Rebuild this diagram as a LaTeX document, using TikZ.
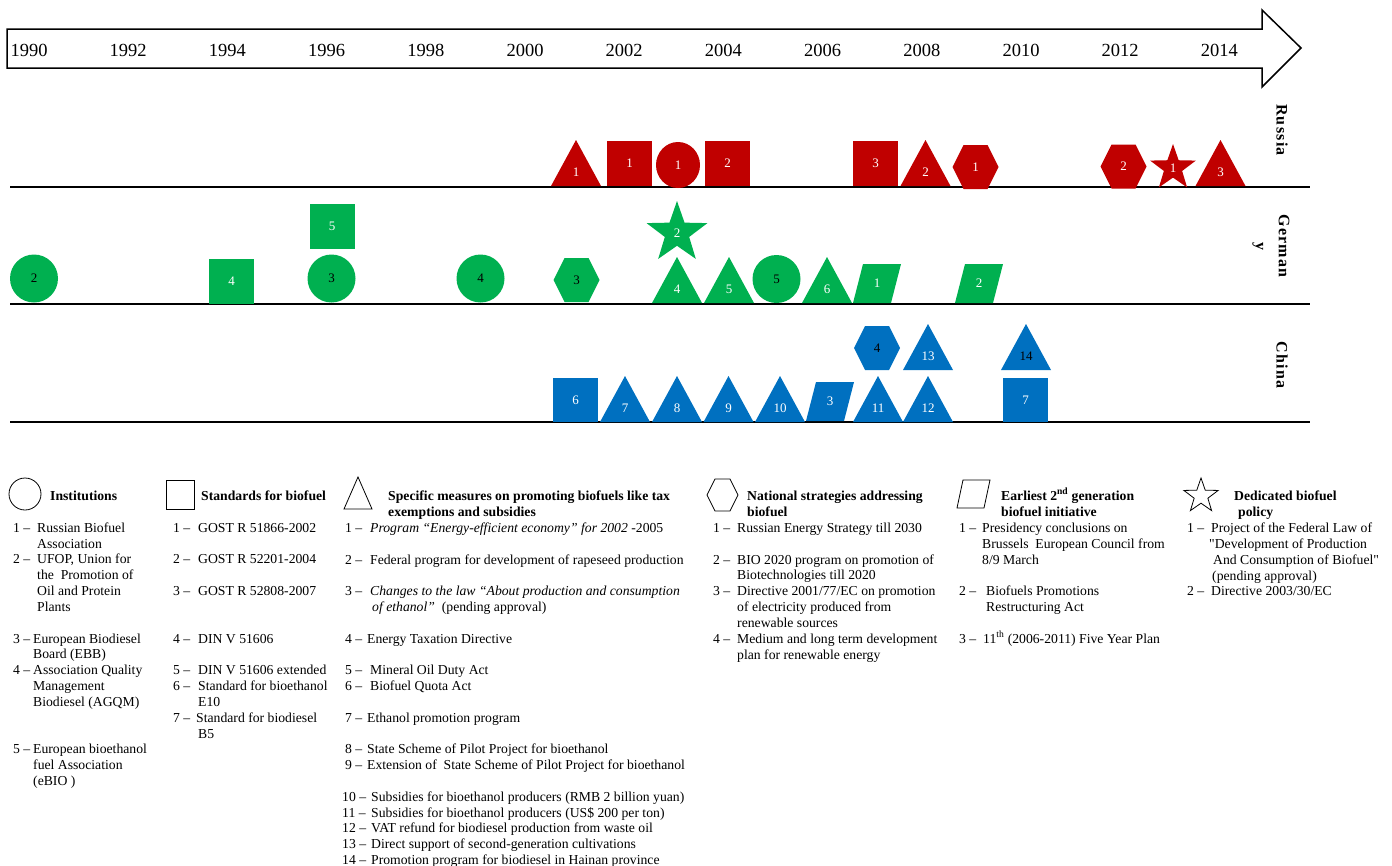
\documentclass[tikz,border=0pt]{standalone}
\usepackage{fontspec}
\setmainfont{Liberation Serif}
\newfontfamily\rawq{Liberation Serif}[Ligatures=ResetAll]
\usetikzlibrary{shapes.geometric}
\definecolor{ru}{HTML}{C00000}
\definecolor{de}{HTML}{00B050}
\definecolor{cn}{HTML}{0070C0}
\newcounter{legc}
\newcommand\Lg[3]{\stepcounter{legc}\node[leg] (leg\number\value{legc}) at (#1,#2) {#3};}
\newcommand\En[5]{\stepcounter{legc}\node[leg] (leg\number\value{legc}) at (#1,#2) {\makebox[#3pt][l]{#4}#5};}
\newcommand\Tri[6]{\fill[#1] ({#3-25},#4) -- (#3,{#4-46}) -- ({#3+25},#4) -- cycle;
  \node[lbl,text=#6] (#2) at (#3,{#4-14}) {#5};}
\newcommand\Hex[6]{\fill[#1] ({#3-23},#4) -- ({#3-12},{#4-22}) -- ({#3+12},{#4-22}) -- ({#3+23},#4) -- ({#3+12},{#4+22}) -- ({#3-12},{#4+22}) -- cycle;
  \node[lbl,text=#6] (#2) at (#3,#4) {#5};}
\newcommand\Par[5]{\fill[#1] (#3,#4) -- ({#3+38},#4) -- ({#3+48},{#4-39}) -- ({#3+10},{#4-39}) -- cycle;
  \node[lbl,text=white] (#2) at ({#3+24},{#4-19.5}) {#5};}
\begin{document}
\begin{tikzpicture}[x=1pt,y=-1pt,
  lbl/.style={font=\fontsize{13}{13}\selectfont, inner sep=0},
  year/.style={font=\fontsize{18.5}{18.5}\selectfont, inner sep=0},
  leg/.style={font=\fontsize{13.7}{16}\selectfont, anchor=base west, inner sep=0},
  country/.style={font=\fontsize{16}{23}\selectfont\bfseries\addfontfeature{LetterSpace=8}, rotate=-90, inner sep=0, align=center},
  icon/.style={draw=black, line width=0.8pt},
  sq/.style={rectangle, minimum width=45, minimum height=45, inner sep=0, font=\fontsize{13}{13}\selectfont},
  el/.style={ellipse, minimum width=48, minimum height=48, inner sep=0, font=\fontsize{13}{13}\selectfont},
  st/.style={star, star points=5, star point ratio=2.5, inner sep=0, font=\fontsize{13}{13}\selectfont},
  row/.style={line width=2pt}
]
\useasboundingbox (0,0) rectangle (1392,865);
% timeline arrow
\draw[line width=1.5pt, line join=miter] (7,29) -- (1262,29) -- (1262,10) -- (1301,48) -- (1262,87) -- (1262,68) -- (7,68) -- cycle;
\foreach \yr in {1990,1992,...,2014}
  \node[year] (y\yr) at ({29+(\yr-1990)*49.6},50) {\yr};
% row lines
\draw[row] (10,187) -- (1310,187);
\draw[row] (10,304) -- (1310,304);
\draw[row] (10,422) -- (1310,422);
% country labels
\node[country] (russia) at (1282,130) {Russia};
\node[country] (germany) at (1271,246) {German\\y};
\node[country] (china) at (1282,365) {China};
% Russia
\Tri{ru}{rT1}{576}{186}{1}{white}
\node[sq,fill=ru,text=white] (rS1) at (629.5,163.5) {1};
\node[el,fill=ru,text=white,minimum width=44,minimum height=46] (rC1) at (678,165) {1};
\node[sq,fill=ru,text=white] (rS2) at (727.5,163.5) {2};
\node[sq,fill=ru,text=white] (rS3) at (875.5,163.5) {3};
\Tri{ru}{rT2}{925.5}{186}{2}{white}
\Hex{ru}{rH1}{975.5}{167}{1}{white}
\Hex{ru}{rH2}{1123.5}{166.5}{2}{white}
\node[st,fill=ru,text=white,minimum size=48] (rP1) at (1173,168) {1};
\Tri{ru}{rT3}{1220.5}{186}{3}{white}
% Germany
\node[el,fill=de] (gC2) at (34,278.5) {2};
\node[sq,fill=de,text=white] (gS4) at (231.5,281) {4};
\node[sq,fill=de,text=white] (gS5) at (332,226.5) {5};
\node[el,fill=de] (gC3) at (331.5,278.5) {3};
\node[el,fill=de] (gC4) at (480.5,278.5) {4};
\Hex{de}{gH3}{576.5}{280}{3}{black}
\node[st,fill=de,text=white,minimum size=64] (gP2) at (677,233) {2};
\Tri{de}{gT4}{677}{303}{4}{white}
\Tri{de}{gT5}{729}{303}{5}{white}
\node[el,fill=de] (gC5) at (776.5,279) {5};
\Tri{de}{gT6}{827}{303}{6}{white}
\Par{de}{gR1}{853}{303}{1}
\Par{de}{gR2}{955}{303}{2}
% China
\node[sq,fill=cn,text=white,minimum height=44] (cS6) at (575.5,400) {6};
\Tri{cn}{cT7}{625}{422}{7}{white}
\Tri{cn}{cT8}{677}{422}{8}{white}
\Tri{cn}{cT9}{728.5}{422}{9}{white}
\Tri{cn}{cT10}{780}{422}{10}{white}
\Par{cn}{cR3}{806}{421}{3}
\Tri{cn}{cT11}{878}{422}{11}{white}
\Tri{cn}{cT12}{928}{422}{12}{white}
\Hex{cn}{cH4}{877}{348}{4}{black}
\Tri{cn}{cT13}{928}{370}{13}{white}
\Tri{cn}{cT14}{1026}{370}{14}{black}
\node[sq,fill=cn,text=white,minimum height=44] (cS7) at (1025.5,400) {7};
% legend icons
\node[icon,circle,minimum size=32,inner sep=0] (iC) at (25,494) {};
\node[icon,rectangle,minimum width=28,minimum height=29,inner sep=0] (iS) at (180,494.5) {};
\draw[icon] (344,509) -- (358,477) -- (372,509) -- cycle;
\draw[icon] (707,495) -- (715,479) -- (730,479) -- (738,495) -- (730,511) -- (715,511) -- cycle;
\draw[icon] (957,508) -- (984,508) -- (990,480) -- (963,480) -- cycle;
\node[icon,star,star points=5,star point ratio=2.5,minimum size=36,inner sep=0] (iP) at (1201,496) {};
% legend column 1
\Lg{50}{500}{\bfseries Institutions}
\En{13}{532}{24}{1 –}{Russian Biofuel}
\Lg{37}{548}{Association}
\En{13}{563}{24}{2 –}{UFOP, Union for}
\Lg{37}{579}{the \ Promotion of}
\Lg{37}{595}{Oil and Protein}
\Lg{37}{611}{Plants}
\En{13}{643}{20}{3 –}{European Biodiesel}
\Lg{33}{658}{Board (EBB)}
\En{13}{674}{20}{4 –}{Association Quality}
\Lg{33}{690}{Management}
\Lg{33}{706}{Biodiesel (AGQM)}
\En{13}{753}{20}{5 –}{European bioethanol}
\Lg{33}{769}{fuel Association}
\Lg{33}{785}{(eBIO )}
% legend column 2
\Lg{201}{500}{\bfseries Standards for biofuel}
\En{173}{532}{25}{1 –}{GOST R 51866-2002}
\En{173}{563}{25}{2 –}{GOST R 52201-2004}
\En{173}{595}{25}{3 –}{GOST R 52808-2007}
\En{173}{643}{25}{4 –}{DIN V 51606}
\En{173}{674}{25}{5 –}{DIN V 51606 extended}
\En{173}{690}{25}{6 –}{Standard for bioethanol}
\Lg{198}{706}{E10}
\En{173}{722}{23}{7 –}{Standard for biodiesel}
\Lg{198}{738}{B5}
% legend column 3
\Lg{388}{500}{\bfseries Specific measures on promoting biofuels like tax}
\Lg{388}{516}{\bfseries exemptions and subsidies}
\En{345}{532}{25}{1 –}{\textit{Program “Energy-efficient economy” for 2002} -2005}
\En{345}{564}{25}{2 –}{Federal program for development of rapeseed production}
\En{345}{595}{25}{3 –}{\textit{Changes to the law “About production and consumption}}
\Lg{372}{611}{\textit{of ethanol”} \ (pending approval)}
\En{345}{643}{22}{4 –}{Energy Taxation Directive}
\En{345}{674}{25}{5 –}{Mineral Oil Duty Act}
\En{345}{690}{25}{6 –}{Biofuel Quota Act}
\En{345}{722}{22}{7 –}{Ethanol promotion program}
\En{345}{753}{22}{8 –}{State Scheme of Pilot Project for bioethanol}
\En{345}{769}{22}{9 –}{Extension of \ State Scheme of Pilot Project for bioethanol}
\En{342}{801}{29}{10 –}{Subsidies for bioethanol producers (RMB 2 billion yuan)}
\En{342}{817}{29}{11 –}{Subsidies for bioethanol producers (US\$ 200 per ton)}
\En{342}{832}{29}{12 –}{VAT refund for biodiesel production from waste oil}
\En{342}{848}{29}{13 –}{Direct support of second-generation cultivations}
\En{342}{864}{29}{14 –}{Promotion program for biodiesel in Hainan province}
% legend column 4
\Lg{747}{500}{\bfseries National strategies addressing}
\Lg{747}{516}{\bfseries biofuel}
\En{713}{532}{24}{1 –}{Russian Energy Strategy till 2030}
\En{713}{564}{24}{2 –}{BIO 2020 program on promotion of}
\Lg{737}{579}{Biotechnologies till 2020}
\En{713}{595}{24}{3 –}{Directive 2001/77/EC on promotion}
\Lg{737}{611}{of electricity produced from}
\Lg{737}{627}{renewable sources}
\En{713}{643}{24}{4 –}{Medium and long term development}
\Lg{737}{659}{plan for renewable energy}
% legend column 5
\Lg{1001}{500}{\bfseries Earliest 2\textsuperscript{nd} generation}
\Lg{1001}{516}{\bfseries biofuel initiative}
\En{959}{532}{23}{1 –}{Presidency conclusions on}
\Lg{982}{548}{Brussels \ European Council from}
\Lg{982}{564}{8/9 March}
\En{959}{595}{27}{2 –}{Biofuels Promotions}
\Lg{986}{611}{Restructuring Act}
\En{959}{643}{24}{3 –}{11\textsuperscript{th} (2006-2011) Five Year Plan}
% legend column 6
\Lg{1234}{500}{\bfseries Dedicated biofuel}
\Lg{1238}{516}{\bfseries policy}
\En{1187}{532}{24}{1 –}{Project of the Federal Law of}
\Lg{1209}{548}{{\rawq"}Development of Production}
\Lg{1213}{564}{And Consumption of Biofuel{\rawq"}}
\Lg{1212}{580}{(pending approval)}
\En{1187}{595}{24}{2 –}{Directive 2003/30/EC}
\end{tikzpicture}
\end{document}
